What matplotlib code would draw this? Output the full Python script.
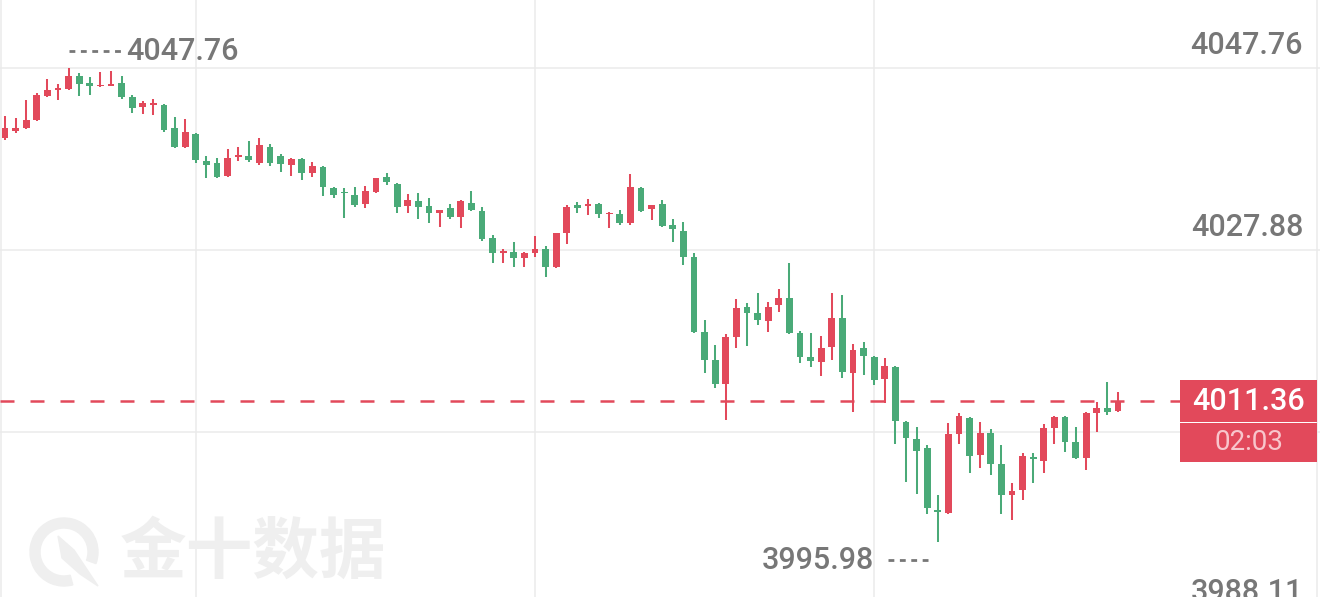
import matplotlib
matplotlib.use("Agg")
import matplotlib.pyplot as plt
from matplotlib.patches import Rectangle, Wedge, Polygon
from matplotlib.transforms import blended_transform_factory, offset_copy, IdentityTransform

# velas de 1 minuto (open, high, low, close)
opens = [4040.11, 4040.87, 4041.20, 4042.08, 4044.70, 4045.36, 4045.46, 4046.89, 4046.12, 4045.79,
         4045.79, 4046.12, 4044.59, 4043.50, 4043.72, 4043.72, 4041.20, 4039.13, 4040.55, 4037.60,
         4037.38, 4035.96, 4038.03, 4038.14, 4037.38, 4039.13, 4038.14, 4037.16, 4037.82, 4036.28,
         4036.94, 4034.65, 4034.21, 4033.88, 4032.90, 4034.21, 4035.85, 4035.08, 4032.68, 4033.22,
         4032.68, 4031.91, 4032.46, 4031.48, 4033.01, 4032.13, 4029.18, 4027.54, 4027.65, 4026.99,
         4027.54, 4027.98, 4026.01, 4029.73, 4032.79, 4032.68, 4032.90, 4031.80, 4031.80, 4030.82,
         4034.65, 4032.35, 4032.90, 4030.60, 4029.95, 4027.10, 4018.91, 4015.85, 4013.22, 4018.36,
         4021.64, 4020.98, 4020.11, 4021.86, 4022.62, 4018.80, 4016.18, 4015.63, 4017.27, 4020.44,
         4014.43, 4017.16, 4016.18, 4013.77, 4015.08, 4009.07, 4007.21, 4006.23, 3999.45, 3999.12,
         4007.76, 4009.57, 4005.46, 4007.87, 4004.48, 4001.09, 4001.64, 4005.25, 4004.81, 4008.42,
         4009.62, 4006.89, 4005.14, 4010.06, 4010.60, 4010.27]
highs = [4042.51, 4042.30, 4044.26, 4045.03, 4046.56, 4046.01, 4047.76, 4047.21, 4046.78, 4047.32,
         4047.43, 4046.89, 4044.81, 4044.15, 4044.37, 4043.83, 4042.40, 4042.19, 4040.66, 4038.14,
         4037.92, 4038.91, 4039.13, 4039.78, 4040.11, 4039.45, 4038.36, 4037.92, 4037.92, 4037.49,
         4037.05, 4034.75, 4034.65, 4034.75, 4034.86, 4035.74, 4036.28, 4035.19, 4033.99, 4034.10,
         4033.55, 4032.24, 4032.90, 4033.33, 4034.32, 4032.57, 4029.51, 4027.98, 4028.74, 4027.65,
         4029.40, 4028.31, 4029.73, 4032.79, 4033.12, 4033.44, 4033.01, 4032.02, 4032.24, 4036.18,
         4034.75, 4032.79, 4033.33, 4031.26, 4030.93, 4027.54, 4020.22, 4017.49, 4018.69, 4022.51,
         4022.08, 4023.17, 4022.19, 4023.61, 4026.45, 4019.02, 4018.80, 4018.47, 4023.17, 4022.95,
         4017.60, 4017.82, 4016.28, 4016.07, 4015.19, 4009.18, 4008.52, 4006.56, 4001.09, 4008.96,
         4010.06, 4009.62, 4009.07, 4008.31, 4006.56, 4002.40, 4005.68, 4005.68, 4008.85, 4009.73,
         4009.73, 4008.52, 4010.16, 4011.26, 4013.44, 4012.35]
lows = [4039.89, 4040.66, 4041.09, 4041.97, 4044.59, 4044.26, 4045.36, 4044.70, 4044.81, 4045.68,
        4045.74, 4044.37, 4042.84, 4042.73, 4042.62, 4040.77, 4039.02, 4039.02, 4037.38, 4035.74,
        4035.74, 4035.85, 4037.60, 4037.49, 4037.16, 4037.05, 4036.39, 4035.96, 4035.52, 4035.85,
        4033.77, 4033.55, 4031.37, 4032.57, 4032.46, 4034.10, 4034.97, 4031.91, 4031.91, 4031.26,
        4030.82, 4030.38, 4031.26, 4030.27, 4032.13, 4028.85, 4026.45, 4026.45, 4026.01, 4026.01,
        4027.10, 4024.92, 4025.96, 4028.53, 4031.91, 4031.69, 4031.37, 4030.27, 4030.60, 4030.60,
        4032.02, 4031.15, 4030.38, 4028.74, 4026.23, 4018.80, 4014.43, 4012.79, 4009.29, 4017.16,
        4017.38, 4019.67, 4018.91, 4021.09, 4018.69, 4015.52, 4015.08, 4014.10, 4015.85, 4013.88,
        4010.16, 4014.21, 4013.12, 4011.15, 4006.67, 4002.51, 4001.20, 3999.02, 3995.98, 3999.02,
        4006.67, 4003.50, 4004.05, 4003.28, 3999.02, 3998.36, 4000.55, 4002.40, 4003.50, 4006.67,
        4005.79, 4005.03, 4003.83, 4008.00, 4009.84, 4010.22]
closes = [4041.20, 4041.20, 4042.08, 4044.81, 4045.36, 4045.57, 4046.89, 4046.01, 4045.79, 4045.90,
          4046.01, 4044.59, 4043.39, 4043.93, 4043.93, 4040.98, 4039.13, 4040.77, 4037.71, 4037.16,
          4035.85, 4037.92, 4038.25, 4037.71, 4039.34, 4037.38, 4037.27, 4037.82, 4036.28, 4037.05,
          4034.75, 4033.88, 4034.10, 4032.79, 4034.32, 4035.70, 4035.30, 4032.57, 4033.33, 4032.57,
          4031.91, 4032.20, 4031.48, 4033.22, 4032.24, 4029.07, 4027.54, 4027.76, 4026.99, 4027.54,
          4027.98, 4026.01, 4029.73, 4032.57, 4032.46, 4032.90, 4031.80, 4031.91, 4030.82, 4034.75,
          4032.13, 4032.75, 4030.49, 4030.16, 4027.10, 4018.91, 4015.85, 4013.22, 4018.36, 4021.53,
          4020.98, 4020.22, 4021.64, 4022.62, 4018.80, 4016.18, 4015.74, 4017.16, 4020.44, 4014.54,
          4016.94, 4016.28, 4013.66, 4015.19, 4009.18, 4007.32, 4005.90, 3999.67, 3999.23, 4007.76,
          4009.73, 4005.36, 4007.87, 4004.48, 4001.09, 4001.53, 4005.36, 4005.03, 4008.42, 4009.67,
          4006.89, 4005.14, 4010.06, 4010.60, 4010.16, 4011.36]

# niveles del eje de precios (derecha); el de 4008.00 queda tapado por la caja roja
grid_levels = [4047.76, 4027.88, 4008.00, 3988.11]
grid_labels = ["4047.76", "4027.88", "", "3988.11"]
grid_candles = [18, 50, 82]
last_price = 4011.36
last_label = "4011.36"
countdown = "02:03"
watermark = "金十数据"

RED = "#e2495b"
GREEN = "#4aaa78"
GRAY_TXT = "#777777"
GRID = "#ebebeb"
FONT = ["Roboto", "DejaVu Sans"]

W, H = 1320, 597
fig = plt.figure(figsize=(W / 100, H / 100), dpi=100, facecolor="white")
ax = fig.add_axes([0, 0, 1, 1])
ax.axis("off")

# escala: pixeles por vela y por unidad de precio
step = 10.6
x0 = 5
px_per_unit = 182 / (grid_levels[0] - grid_levels[1])
top = grid_levels[0] + 68 / px_per_unit
ax.set_xlim(-x0 / step, (W - x0) / step)
ax.set_ylim(top - H / px_per_unit, top)

def px_to_x(px):
    return (px - x0) / step

# rejilla
for lvl in grid_levels:
    ax.axhline(lvl, color=GRID, lw=1.1, zorder=0)
for gc in grid_candles:
    ax.axvline(gc, color=GRID, lw=1.1, zorder=0)
ax.axvline(px_to_x(1.5), color=GRID, lw=1.1, zorder=0)
ax.axvline(px_to_x(1317), color=GRID, lw=1.1, zorder=0)

# velas (rojo sube, verde baja)
n = len(opens)
xs = list(range(n))
colors = [RED if c >= o else GREEN for o, c in zip(opens, closes)]
ax.vlines(xs, lows, highs, colors=colors, lw=1.45, zorder=3)
bottoms = [min(o, c) for o, c in zip(opens, closes)]
heights = [max(abs(c - o), 0.16) for o, c in zip(opens, closes)]
ax.bar(xs, heights, bottom=bottoms, width=0.66, color=colors, lw=0, zorder=4)

# etiquetas del eje derecho
trans = blended_transform_factory(ax.transAxes, ax.transData)
for lvl, lab in zip(grid_levels, grid_labels):
    if not lab:
        continue
    ax.annotate(lab, xy=(1303 / W, lvl), xycoords=trans, xytext=(0, 22),
                textcoords="offset pixels", ha="right", va="center",
                fontsize=22, color=GRAY_TXT, family=FONT, weight="medium", zorder=2)

# linea del ultimo precio
ax.plot([ax.get_xlim()[0], px_to_x(1180)], [last_price, last_price], color=RED,
        lw=1.8, dashes=(5.6, 6.4), zorder=5)
ax.add_patch(Rectangle((1180 / W, last_price - 21 / px_per_unit), 137 / W, 42 / px_per_unit,
                       transform=trans, color=RED, lw=0, zorder=6))
ax.add_patch(Rectangle((1180 / W, last_price - 61 / px_per_unit), 137 / W, 39.5 / px_per_unit,
                       transform=trans, color=RED, lw=0, zorder=6))
ax.text(1248.5 / W, last_price, last_label, transform=trans, ha="center", va="center",
        fontsize=22, color="white", family=FONT, weight="medium", zorder=7)
ax.annotate(countdown, xy=(1248.5 / W, last_price), xycoords=trans, xytext=(0, -41),
            textcoords="offset pixels", ha="center", va="center",
            fontsize=20, color="#f8c6cc", family=FONT, zorder=7)

# maximo y minimo
imax = highs.index(max(highs))
imin = lows.index(min(lows))
tr_up = offset_copy(ax.transData, fig=fig, x=0, y=17, units="dots")
ax.plot([imax, imax + 55 / step], [highs[imax]] * 2, transform=tr_up,
        color=GRAY_TXT, lw=2.0, dashes=(2.1, 2.0), zorder=5)
ax.annotate(f"{highs[imax]:.2f}", xy=(imax, highs[imax]), xytext=(58, 17),
            textcoords="offset pixels", ha="left", va="center",
            fontsize=22, color=GRAY_TXT, family=FONT, weight="medium", zorder=5)
tr_dn = offset_copy(ax.transData, fig=fig, x=0, y=-18, units="dots")
ax.plot([imin - 50 / step, imin - 7 / step], [lows[imin]] * 2, transform=tr_dn,
        color=GRAY_TXT, lw=2.0, dashes=(2.1, 2.0), zorder=5)
ax.annotate(f"{lows[imin]:.2f}", xy=(imin, lows[imin]), xytext=(-64, -18),
            textcoords="offset pixels", ha="right", va="center",
            fontsize=22, color=GRAY_TXT, family=FONT, weight="medium", zorder=5)

# marca de agua
WM = "#efefef"
ident = IdentityTransform()
fig.patches.append(Wedge((64, H - 552), 34, -20, 285, width=10, color=WM,
                         transform=ident, zorder=1))
fig.patches.append(Polygon([(58, H - 536), (74, H - 550), (98, H - 586), (80, H - 574), (62, H - 558)],
                           closed=True, color=WM, transform=ident, zorder=1))
fig.text(120 / W, 1 - 553 / H, watermark, ha="left", va="center", fontsize=48,
         color=WM, family=["Noto Sans CJK SC", "DejaVu Sans"], weight="bold", zorder=1)

fig.savefig("out.png", dpi=100, facecolor="white")
